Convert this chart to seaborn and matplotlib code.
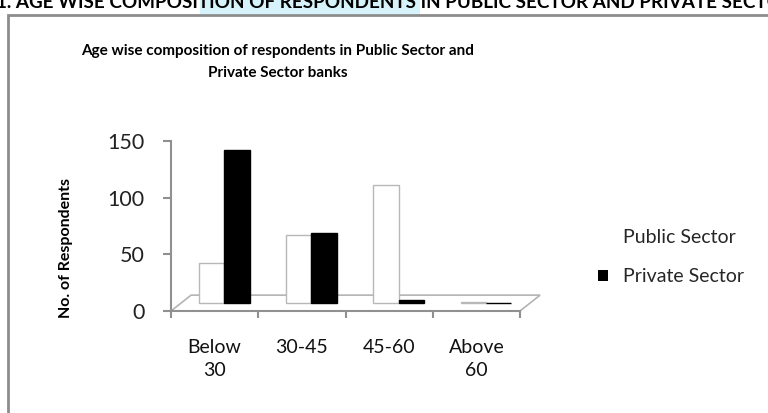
import numpy as np
import pandas as pd
import matplotlib
matplotlib.use("Agg")
import matplotlib.pyplot as plt
import seaborn as sns
from matplotlib.patches import Rectangle, Polygon, Patch

# data
age_groups = ["Below\n30", "30-45", "45-60", "Above\n60"]
public_sector = [35, 60, 104, 1]
private_sector = [135, 62, 3, 0]
sectors = ["Public Sector", "Private Sector"]

df = pd.DataFrame({
    "Age": age_groups * 2,
    "Respondents": public_sector + private_sector,
    "Sector": [sectors[0]] * 4 + [sectors[1]] * 4,
})

sns.set_style("white")
plt.rcParams["font.family"] = ["Lato", "DejaVu Sans"]

W, H = 768, 413
fig = plt.figure(figsize=(W / 100, H / 100), dpi=100)

# header band across the top (page text, partly cut off)
fig.patches.append(Rectangle((200 / W, 1 - 14 / H), 220 / W, 14 / H,
                             transform=fig.transFigure, facecolor="#d6f3fb",
                             edgecolor="none", zorder=0))
fig.text(-4 / W, 1 - 8 / H,
         "1. AGE WISE COMPOSITION OF RESPONDENTS IN PUBLIC SECTOR AND PRIVATE SECTOR",
         fontsize=13.6, fontweight="bold", ha="left", va="baseline", color="black")

# chart frame
fig.patches.append(Rectangle((8 / W, -0.05), 1.0, 1 - 15 / H + 0.05,
                             transform=fig.transFigure, facecolor="white",
                             edgecolor="#8c8c8c", linewidth=2, zorder=1))

ax = fig.add_axes([171 / W, (H - 311) / H, (520 - 171) / W, 170 / H])
ax.set_zorder(2)
ax.patch.set_alpha(0)

# pseudo 3d floor
floor = Polygon([(-0.5, 0), (-0.27, 14), (3.73, 14), (3.5, 0)], closed=True,
                facecolor="white", edgecolor="#b4b4b4", linewidth=1.2,
                clip_on=False, zorder=0)
ax.add_patch(floor)

sns.barplot(data=df, x="Age", y="Respondents", hue="Sector",
            palette={"Public Sector": "white", "Private Sector": "black"},
            width=0.58, edgecolor="#b8b8b8", linewidth=1.0,
            legend=False, ax=ax, zorder=3)
# bars stand in the middle of the 3d floor
for bar in ax.patches[-8:]:
    bar.set_x(bar.get_x() + 0.11)
    bar.set_y(7)
for bar in ax.patches[-4:]:
    bar.set_edgecolor("black")

ax.set_xlim(-0.5, 3.5)
ax.set_ylim(0, 150)
ax.set_yticks([0, 50, 100, 150])
ax.set_xticks(range(4))
ax.set_xticklabels(age_groups, fontsize=14, color="#111111", linespacing=1.45)
ax.set_xticks(np.arange(-0.5, 4, 1), minor=True)
ax.tick_params(axis="x", which="major", length=0, pad=20)
ax.tick_params(axis="x", which="minor", length=5, width=1.5, color="#909090",
               direction="out", bottom=True)
ax.tick_params(axis="y", length=6, width=1.5, color="#909090", left=True,
               labelsize=15.5, labelcolor="#222222", pad=13)
ax.set_xlabel("")
ax.set_ylabel("")
for side in ["top", "right"]:
    ax.spines[side].set_visible(False)
for side in ["left", "bottom"]:
    ax.spines[side].set_color("#909090")
    ax.spines[side].set_linewidth(1.5)

fig.text(66 / W, 1 - 248 / H, "No. of Respondents", rotation=90,
         fontsize=11.5, fontweight="bold", ha="center", va="center", color="black")

fig.text(278 / W, 1 - 62 / H,
         "Age wise composition of respondents in Public Sector and\nPrivate Sector banks",
         fontsize=11, fontweight="bold", ha="center", va="center",
         linespacing=1.8, color="black")

handles = [Patch(facecolor="white", edgecolor="none"),
           Patch(facecolor="black", edgecolor="none")]
fig.legend(handles, sectors, loc="center left",
           bbox_to_anchor=(598 / W, (H - 257) / H), frameon=False,
           fontsize=14, handlelength=0.5, handleheight=0.5,
           handletextpad=0.8, labelspacing=1.15, borderpad=0, borderaxespad=0)

fig.savefig("out.png", dpi=100)
